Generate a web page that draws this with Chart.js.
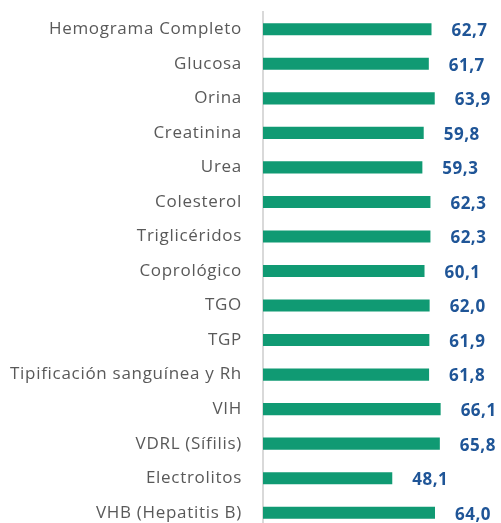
<!DOCTYPE html>
<html>
<head>
<meta charset="utf-8">
<script src="https://cdn.jsdelivr.net/npm/chart.js@4.4.1/dist/chart.umd.min.js"></script>
<style>
  html, body { margin: 0; padding: 0; background: #fff; overflow: hidden; }
  #wrap { width: 501px; height: 530px; }
</style>
</head>
<body>
<div id="wrap"><canvas id="myChart"></canvas></div>
<script>
const categories = ['Hemograma Completo', 'Glucosa', 'Orina', 'Creatinina', 'Urea', 'Colesterol',
    'Triglicéridos', 'Coprológico', 'TGO', 'TGP', 'Tipificación sanguínea y Rh', 'VIH',
    'VDRL (Sífilis)', 'Electrolitos', 'VHB (Hepatitis B)']
const values = [62.7, 61.7, 63.9, 59.8, 59.3, 62.3, 62.3, 60.1, 62.0, 61.9, 61.8, 66.1, 65.8, 48.1, 64.0]

// the reference text is a bit wider than Open Sans, spread it a little
const spacing = {
    id: 'spacing',
    beforeDraw(chart) { chart.ctx.letterSpacing = '0.7px' }
}

// draw the numbers at the bar ends, comma decimals
const valueLabels = {
    id: 'valueLabels',
    afterDatasetsDraw(chart) {
        const ctx = chart.ctx
        const meta = chart.getDatasetMeta(0)
        ctx.save()
        ctx.font = 'bold 17px "Open Sans"'
        ctx.letterSpacing = '0.5px'
        ctx.fillStyle = '#1f5597'
        ctx.textAlign = 'left'
        ctx.textBaseline = 'middle'
        meta.data.forEach((bar, i) => {
            ctx.fillText(values[i].toFixed(1).replace('.', ','), bar.x + 20, bar.y + 2)
        })
        ctx.restore()
    }
}

new Chart(document.getElementById('myChart'), {
    type: 'bar',
    data: {
        labels: categories,
        datasets: [{
            data: values,
            backgroundColor: '#109a73',
            barPercentage: 0.35,
            categoryPercentage: 1
        }]
    },
    options: {
        indexAxis: 'y',
        responsive: true,
        maintainAspectRatio: false,
        animation: false,
        layout: { padding: { top: 12, right: 23, bottom: 0, left: 0 } },
        plugins: { legend: { display: false }, tooltip: { enabled: false } },
        scales: {
            x: {
                display: false,
                min: 0,
                max: 80
            },
            y: {
                afterFit(scale) {
                    scale.width = 263
                    scale.paddingTop = 0
                    scale.paddingBottom = 0
                },
                grid: { display: false, drawTicks: false },
                border: { display: true, color: '#d9d9d9', width: 2 },
                ticks: {
                    padding: 21,
                    color: '#595959',
                    font: { family: 'Open Sans', size: 17 }
                }
            }
        }
    },
    plugins: [spacing, valueLabels]
})
</script>
</body>
</html>
